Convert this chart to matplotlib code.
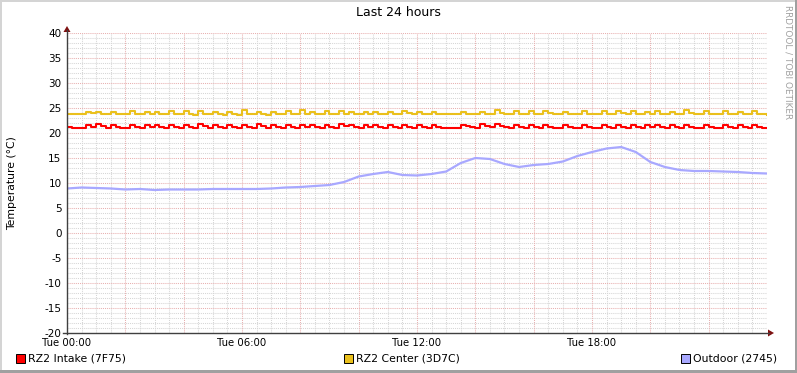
import numpy as np
import matplotlib
matplotlib.use('Agg')
import matplotlib.pyplot as plt
from matplotlib.patches import Rectangle, Polygon
from matplotlib.lines import Line2D

# ---------------- data ----------------
title = "Last 24 hours"
y_label = "Temperature (°C)"
x_tick_hours = [0, 6, 12, 18]
x_tick_labels = ["Tue 00:00", "Tue 06:00", "Tue 12:00", "Tue 18:00"]
y_ticks = [40, 35, 30, 25, 20, 15, 10, 5, 0, -5, -10, -15, -20]
series_names = ["RZ2 Intake (7F75)", "RZ2 Center (3D7C)", "Outdoor (2745)"]

# 10-minute samples, 00:00 .. 24:00
intake_hours = [i / 6 for i in range(145)]
intake = [
    21.3, 21.1, 21.0, 21.0, 21.7, 21.3, 21.8, 21.4, 21.1, 21.7,
    21.3, 21.1, 21.0, 21.7, 21.3, 21.1, 21.7, 21.3, 21.6, 21.3,
    21.1, 21.7, 21.3, 21.1, 21.7, 21.3, 21.1, 21.8, 21.4, 21.1,
    21.7, 21.3, 21.1, 21.7, 21.3, 21.1, 21.7, 21.3, 21.1, 21.8,
    21.4, 21.1, 21.7, 21.3, 21.1, 21.7, 21.3, 21.1, 21.6, 21.2,
    21.7, 21.3, 21.1, 21.7, 21.3, 21.1, 21.8, 21.4, 21.7, 21.3,
    21.1, 21.7, 21.3, 21.7, 21.3, 21.1, 21.7, 21.3, 21.1, 21.7,
    21.3, 21.1, 21.7, 21.3, 21.1, 21.7, 21.3, 21.1, 21.0, 21.0,
    21.0, 21.7, 21.4, 21.2, 21.1, 21.8, 21.4, 21.2, 21.8, 21.4,
    21.2, 21.1, 21.7, 21.3, 21.1, 21.7, 21.3, 21.1, 21.7, 21.3,
    21.1, 21.0, 21.7, 21.3, 21.1, 21.0, 21.7, 21.3, 21.1, 21.0,
    21.7, 21.3, 21.1, 21.7, 21.3, 21.1, 21.7, 21.3, 21.1, 21.7,
    21.3, 21.7, 21.3, 21.1, 21.7, 21.3, 21.1, 21.7, 21.3, 21.1,
    21.0, 21.7, 21.3, 21.1, 21.0, 21.7, 21.3, 21.1, 21.7, 21.3,
    21.1, 21.7, 21.3, 21.1, 21.0,
]
center_hours = intake_hours
center = [
    23.9, 23.8, 23.8, 23.8, 24.3, 24.0, 24.2, 23.9, 23.8, 24.3,
    23.9, 23.8, 23.8, 24.4, 23.9, 23.8, 24.3, 23.9, 24.2, 23.9,
    23.8, 24.4, 23.9, 23.8, 24.4, 23.9, 23.7, 24.4, 23.9, 23.8,
    24.3, 23.9, 23.7, 24.3, 23.8, 23.7, 24.6, 23.9, 23.8, 24.3,
    23.9, 23.6, 24.3, 23.9, 23.8, 24.4, 23.9, 23.8, 24.6, 23.9,
    24.2, 23.9, 23.8, 24.5, 23.9, 23.8, 24.4, 23.9, 24.3, 23.9,
    23.8, 24.3, 23.9, 24.3, 23.9, 23.8, 24.3, 23.9, 23.8, 24.4,
    24.0, 23.8, 24.3, 23.9, 23.8, 24.3, 23.9, 23.8, 23.8, 23.8,
    23.8, 24.3, 23.9, 23.8, 23.8, 24.3, 23.9, 23.8, 24.6, 24.0,
    23.8, 23.8, 24.5, 23.9, 23.8, 24.4, 23.9, 23.8, 24.4, 24.0,
    23.8, 23.8, 24.3, 23.9, 23.8, 23.8, 24.4, 23.9, 23.8, 23.8,
    24.4, 23.9, 23.8, 24.4, 24.0, 23.8, 24.5, 23.9, 23.8, 24.3,
    23.9, 24.4, 23.9, 23.8, 24.3, 23.9, 23.8, 24.7, 24.0, 23.8,
    23.8, 24.4, 23.9, 23.8, 23.8, 24.5, 23.9, 23.8, 24.3, 23.9,
    23.8, 24.4, 23.9, 23.8, 23.7,
]
# 30-minute samples
outdoor_hours = [i / 2 for i in range(49)]
outdoor = [
    8.9, 9.1, 9.0, 8.9, 8.7, 8.8, 8.6, 8.7, 8.7, 8.7,
    8.8, 8.8, 8.8, 8.8, 8.9, 9.1, 9.2, 9.4, 9.6, 10.2,
    11.3, 11.8, 12.2, 11.6, 11.5, 11.8, 12.3, 14.0, 15.0, 14.8,
    13.8, 13.2, 13.6, 13.8, 14.3, 15.4, 16.2, 16.9, 17.2, 16.2,
    14.2, 13.2, 12.6, 12.4, 12.4, 12.3, 12.2, 12.0, 11.9,
]
colors = ["#ff0000", "#eac01c", "#a8a8ff"]

# ---------------- figure ----------------
W, H = 797, 373
fig = plt.figure(figsize=(W / 100, H / 100), dpi=100)
fig.patch.set_facecolor("white")


def fx(px):
    return px / W


def fy(py):
    return 1 - py / H


ax = fig.add_axes([67 / W, (H - 333) / H, 700 / W, 300 / H])
ax.set_xlim(0, 24)
ax.set_ylim(-20, 40)
ax.set_facecolor("white")
for s in ax.spines.values():
    s.set_visible(False)

minor_c = "#d6d6d6"
major_c = "#e8b0b0"
dot = (0, (1, 1))
for h in np.arange(0.5, 24.01, 0.5):
    if abs(h % 2) > 1e-6:
        ax.axvline(h, color=minor_c, lw=0.75, ls=dot, zorder=0)
for v in range(-19, 41):
    if v % 5 != 0:
        ax.axhline(v, color=minor_c, lw=0.75, ls=dot, zorder=0)
for h in range(2, 25, 2):
    ax.axvline(h, color=major_c, lw=0.75, ls=dot, zorder=0.5)
for v in range(-15, 41, 5):
    ax.axhline(v, color=major_c, lw=0.75, ls=dot, zorder=0.5)

ax.plot(intake_hours, intake, color=colors[0], lw=1.5, drawstyle="steps-post", zorder=3)
ax.plot(center_hours, center, color=colors[1], lw=1.5, drawstyle="steps-post", zorder=3)
ax.plot(outdoor_hours, outdoor, color=colors[2], lw=1.6, zorder=3)

ax.set_xticks(x_tick_hours)
ax.set_xticklabels(x_tick_labels)
ax.set_yticks(y_ticks)
ax.set_yticklabels([str(v) for v in y_ticks])
ax.tick_params(axis="x", length=0, pad=3.5, labelsize=7.3, colors="black")
ax.tick_params(axis="y", length=0, pad=4, labelsize=7.5, colors="black")

# axes lines with arrows
axc = "#404040"
arc = "#7f1010"
fig.add_artist(Line2D([fx(67), fx(67)], [fy(334), fy(30)], color=axc, lw=1.0))
fig.add_artist(Line2D([fx(63), fx(769)], [fy(333), fy(333)], color=axc, lw=1.0))
fig.add_artist(Polygon([[fx(63.5), fy(32)], [fx(70.5), fy(32)], [fx(67), fy(26)]],
                       closed=True, color=arc, lw=0))
fig.add_artist(Polygon([[fx(768), fy(329.5)], [fx(768), fy(336.5)], [fx(774), fy(333)]],
                       closed=True, color=arc, lw=0))

# texts
fig.text(fx(398), fy(13), title, ha="center", va="center", fontsize=9, color="black")
fig.text(fx(12), fy(183), y_label, ha="center", va="center", rotation=90, fontsize=7.8)
fig.text(fx(788), fy(5), "RRDTOOL / TOBI OETIKER", ha="center", va="top", rotation=270,
         fontsize=6.4, color="#a0a0a0")

# legend
leg_x = [17, 345, 682]
for xpos, name, c in zip(leg_x, series_names, colors):
    fig.add_artist(Rectangle((fx(xpos - 1), fy(363)), 9 / W, 9 / H, facecolor=c,
                             edgecolor="black", lw=0.7))
    fig.text(fx(xpos + 11), fy(358.5), name, ha="left", va="center", fontsize=7.8)

# frame
fig.add_artist(Rectangle((0, 0), 2 / W, 1, facecolor="#d4d4d4", lw=0))
fig.add_artist(Rectangle((0, 1 - 2 / H), 1, 2 / H, facecolor="#d4d4d4", lw=0))
fig.add_artist(Rectangle((1 - 2 / W, 0), 2 / W, 1, facecolor="#a0a0a0", lw=0))
fig.add_artist(Rectangle((0, 0), 1, 3 / H, facecolor="#a0a0a0", lw=0))

fig.savefig("out.png", dpi=100)
